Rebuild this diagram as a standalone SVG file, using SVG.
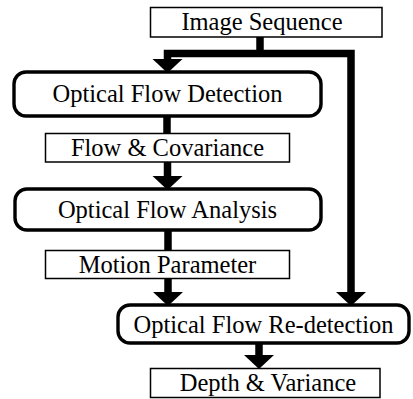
<svg xmlns="http://www.w3.org/2000/svg" width="413" height="399" viewBox="0 0 413 399">
  <style>
    .data { fill: #fff; stroke: #000; stroke-width: 1.5; }
    .proc { fill: #fff; stroke: #000; stroke-width: 3.4; }
    .lbl { font-family: "Liberation Serif", "DejaVu Serif", serif; font-size: 24.5px; fill: #000; }
    .flow { fill: none; stroke: #000; stroke-width: 7.5; stroke-linejoin: miter; stroke-linecap: butt; }
  </style>
  <defs>
    <path id="head" d="M-15,-13 L15,-13 L0,1 Z" fill="#000"/>
  </defs>

  <!-- connectors -->
  <g id="connectors">
    <path class="flow" d="M260,37 L260,54"/>
    <path class="flow" d="M167.5,62 L167.5,53.5 L351,53.5 L351,293"/>
    <use href="#head" x="167.5" y="72"/>
    <use href="#head" x="351" y="305"/>
    <path class="flow" d="M167,116 L167,134"/>
    <path class="flow" d="M167.5,162 L167.5,177"/>
    <use href="#head" x="167.5" y="189"/>
    <path class="flow" d="M168,230 L168,251"/>
    <path class="flow" d="M168,278 L168,293"/>
    <use href="#head" x="168" y="305"/>
    <path class="flow" d="M259,343 L259,356"/>
    <use href="#head" x="259" y="368"/>
  </g>

  <g id="image-sequence">
    <rect class="data" x="150.5" y="7.5" width="231.5" height="29.5"/>
    <text class="lbl" x="262" y="29.5" text-anchor="middle">Image Sequence</text>
  </g>

  <g id="optical-flow-detection">
    <rect class="proc" x="14" y="72" width="307" height="44" rx="12"/>
    <text class="lbl" x="167.5" y="102" text-anchor="middle">Optical Flow Detection</text>
  </g>

  <g id="flow-covariance">
    <rect class="data" x="45.5" y="133.5" width="244" height="28.5"/>
    <text class="lbl" x="167.5" y="156" text-anchor="middle">Flow &amp; Covariance</text>
  </g>

  <g id="optical-flow-analysis">
    <rect class="proc" x="15" y="189" width="306" height="41" rx="12"/>
    <text class="lbl" x="167.5" y="218" text-anchor="middle">Optical Flow Analysis</text>
  </g>

  <g id="motion-parameter">
    <rect class="data" x="45.5" y="250.5" width="244" height="28"/>
    <text class="lbl" x="167.5" y="272.5" text-anchor="middle">Motion Parameter</text>
  </g>

  <g id="optical-flow-redetection">
    <rect class="proc" x="118" y="305" width="291" height="38" rx="12"/>
    <text class="lbl" x="263.5" y="332.5" text-anchor="middle">Optical Flow Re-detection</text>
  </g>

  <g id="depth-variance">
    <rect class="data" x="150.5" y="368.5" width="229.5" height="29"/>
    <text class="lbl" x="268" y="391" text-anchor="middle">Depth &amp; Variance</text>
  </g>
</svg>
